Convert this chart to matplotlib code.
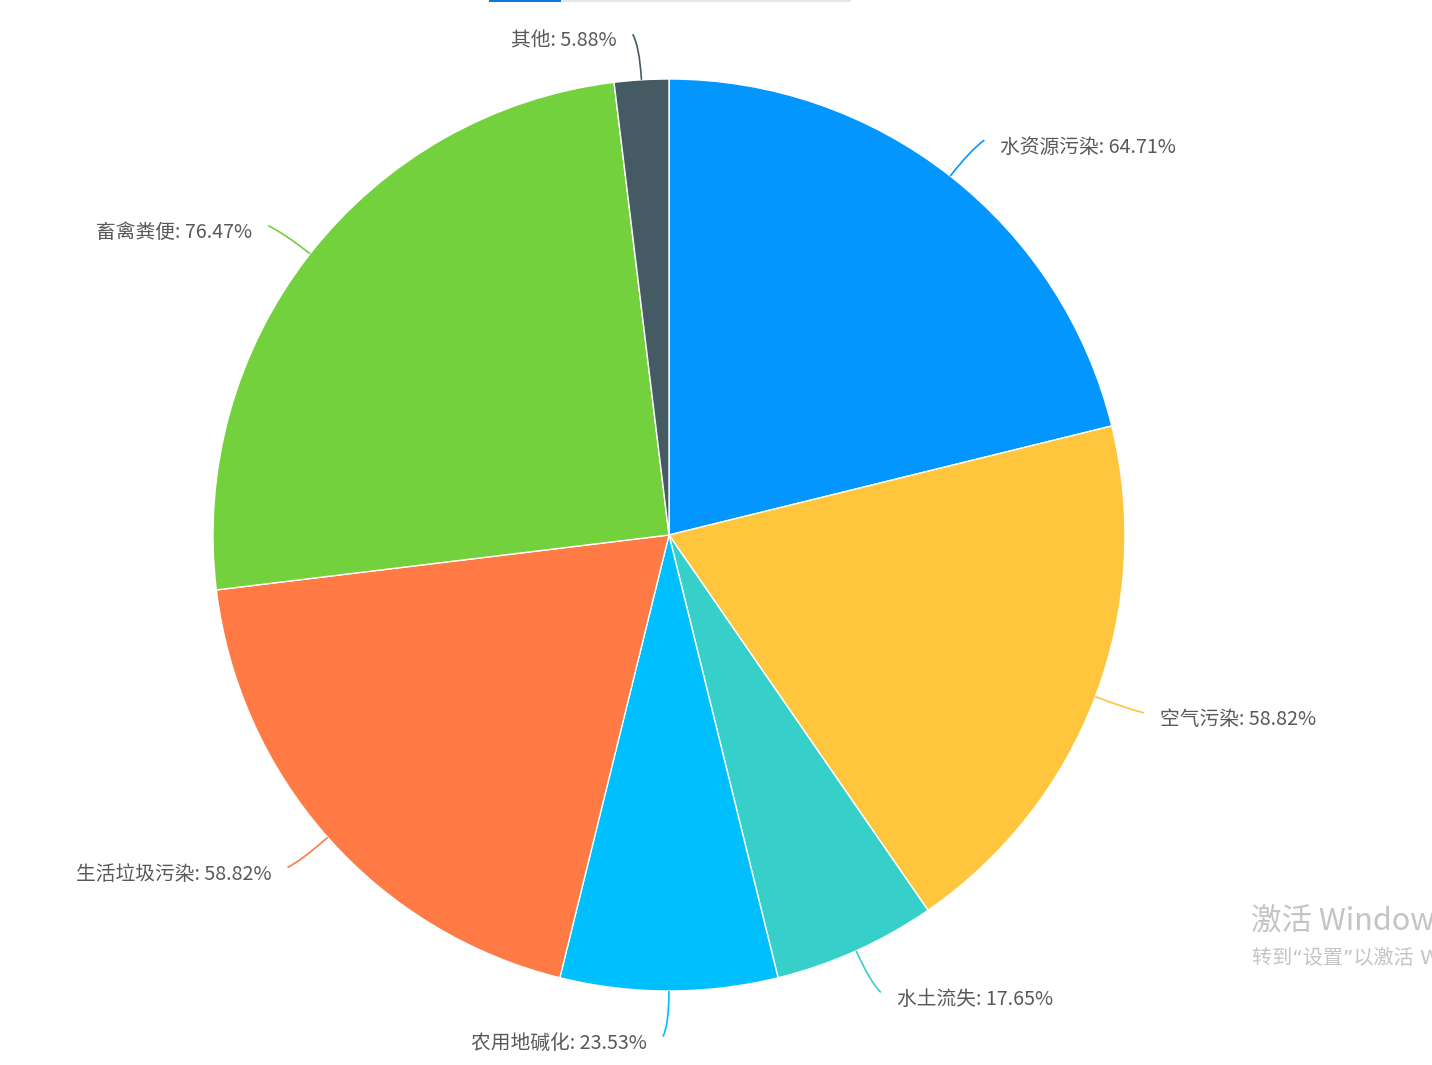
#!/usr/bin/env python3

import matplotlib
matplotlib.use("Agg")
import matplotlib.pyplot as plt
import numpy as np
from matplotlib.patches import PathPatch, Rectangle
from matplotlib.path import Path

plt.rcParams["font.family"] = ["Noto Sans CJK SC", "DejaVu Sans"]

W, H = 1432, 1065

CATEGORIES = ["水资源污染", "空气污染", "水土流失", "农用地碱化", "生活垃圾污染", "畜禽粪便", "其他"]
PERCENTS = [64.71, 58.82, 17.65, 23.53, 58.82, 76.47, 5.88]
COLORS = ["#0396FF", "#FFC53D", "#36CFC9", "#00BFFF", "#FF7A45", "#73D13D", "#465A64"]

TEXT_COLOR = "#595959"

# pie layout in pixel units (y up)
CX, CY, R = 669, H - 535, 456


def leader(ax, theta, color, side):
    """Curved label line from the slice edge out to the label."""
    c, s = np.cos(theta), np.sin(theta)
    p0 = (CX + R * c, CY + R * s)
    p1 = (CX + R * 1.075 * c, CY + R * 1.075 * s)
    p2 = (CX + R * 1.1 * c + side * 6, CY + R * 1.1 * s)
    path = Path([p0, p1, p2], [Path.MOVETO, Path.CURVE3, Path.CURVE3])
    ax.add_patch(PathPatch(path, facecolor="none", edgecolor=color, linewidth=1.2))
    return p2


def main():
    fig = plt.figure(figsize=(W / 100, H / 100), dpi=100)
    ax = fig.add_axes([0, 0, 1, 1])

    wedges, _ = ax.pie(
        PERCENTS,
        colors=COLORS,
        startangle=90,
        counterclock=False,
        center=(CX, CY),
        radius=R,
        wedgeprops=dict(edgecolor="white", linewidth=1.0),
    )

    for wedge, name, pct, color in zip(wedges, CATEGORIES, PERCENTS, COLORS):
        theta = np.deg2rad((wedge.theta1 + wedge.theta2) / 2)
        side = 1 if np.cos(theta) >= 0 else -1
        ex, ey = leader(ax, theta, color, side)
        ax.text(
            ex + side * 16,
            ey - 7,
            f"{name}: {pct:.2f}%",
            ha="left" if side > 0 else "right",
            va="center",
            fontsize=14.2,
            color=TEXT_COLOR,
        )

    # thin tab indicator at the top edge
    ax.add_patch(Rectangle((489, H - 2), 72, 2, color="#0A78D7", lw=0))
    ax.add_patch(Rectangle((561, H - 2), 290, 2, color="#E6E6E6", lw=0))

    # system watermark visible in the screenshot (cut by the right edge, as in the screenshot)
    ax.text(1251, H - 922, "激活 Windows", fontsize=22, color="#C4C4C4", va="center", ha="left")
    ax.text(1252, H - 958, "转到\u201c设置\u201d以激活 Windows。", fontsize=14.5, color="#C4C4C4",
            va="center", ha="left", family=["DejaVu Sans", "Noto Sans CJK SC"])

    ax.set_xlim(0, W)
    ax.set_ylim(0, H)
    ax.set_aspect("equal")
    ax.axis("off")

    fig.savefig("out.png", dpi=100)
    plt.close(fig)


if __name__ == "__main__":
    main()
